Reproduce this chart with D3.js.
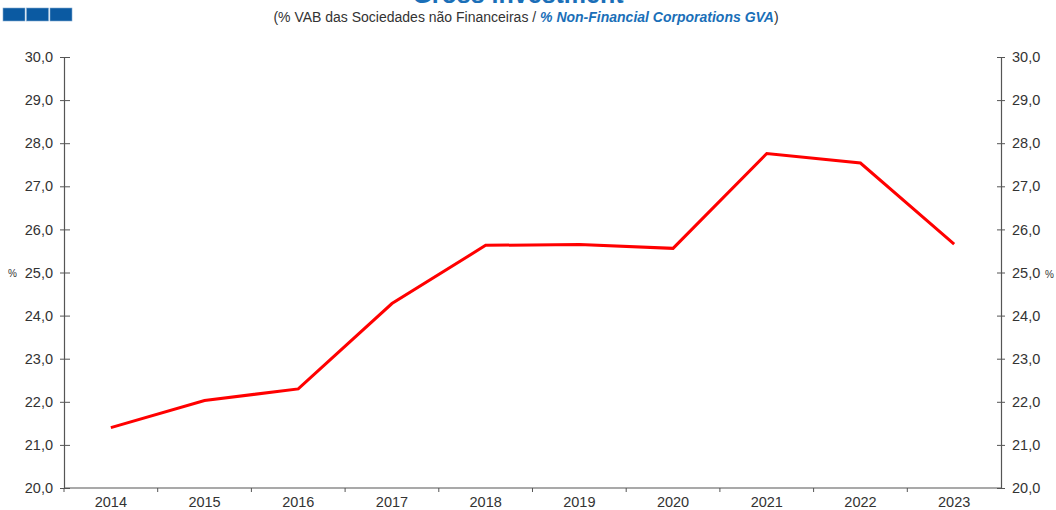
<!DOCTYPE html>
<html>
<head>
<meta charset="utf-8">
<script src="https://cdn.jsdelivr.net/npm/d3@7"></script>
<style>
  body { margin: 0; background: #fff; }
  svg { display: block; font-family: "Liberation Sans", Arial, sans-serif; }
</style>
</head>
<body>
<div class="container"></div>
<script>
const years = ['2014', '2015', '2016', '2017', '2018', '2019', '2020', '2021', '2022', '2023'];
const values = [21.4, 22.03, 22.3, 24.28, 25.63, 25.65, 25.56, 27.76, 27.54, 25.66];
const yTicks = [20, 21, 22, 23, 24, 25, 26, 27, 28, 29, 30];

const width = 1056;
const height = 510;
const plotLeft = 64, plotRight = 1001, plotTop = 57, plotBottom = 488;

const svg = d3.select('.container')
  .append('svg')
  .attr('width', width)
  .attr('height', height);

// blue squares logo
svg.selectAll('rect.logo')
  .data([0, 1, 2])
  .enter().append('rect')
  .attr('x', d => 3 + d * 23.5)
  .attr('y', 8)
  .attr('width', 22)
  .attr('height', 13)
  .attr('fill', '#0b5aa2')
  .attr('stroke', '#7fa8d0')
  .attr('stroke-width', 0.6);

// title, cut off at the top like the reference
svg.append('text')
  .attr('x', 518)
  .attr('y', 3)
  .attr('text-anchor', 'middle')
  .attr('font-size', 25)
  .attr('font-weight', 'bold')
  .attr('fill', '#1a6fb8')
  .text('Gross investment');

const sub = svg.append('text')
  .attr('x', 526)
  .attr('y', 22)
  .attr('text-anchor', 'middle')
  .attr('font-size', 14)
  .attr('fill', '#333');
sub.append('tspan').text('(% VAB das Sociedades não Financeiras / ');
sub.append('tspan')
  .attr('fill', '#1a6fb8')
  .attr('font-style', 'italic')
  .attr('font-weight', 'bold')
  .text('% Non-Financial Corporations GVA');
sub.append('tspan').text(')');

const x = d3.scaleBand().domain(years).range([plotLeft, plotRight]);
const y = d3.scaleLinear().domain([20, 30]).range([plotBottom, plotTop]);
const fmt = d => d3.format('.1f')(d).replace('.', ',');

// left axis
const yl = svg.append('g')
  .attr('transform', `translate(${plotLeft},0)`)
  .call(d3.axisLeft(y).tickValues(yTicks).tickFormat(fmt).tickSize(4).tickPadding(7));
yl.selectAll('.tick line').attr('x2', 6).attr('x1', -4);

// right axis
const yr = svg.append('g')
  .attr('transform', `translate(${plotRight},0)`)
  .call(d3.axisRight(y).tickValues(yTicks).tickFormat(fmt).tickSize(4).tickPadding(7));
yr.selectAll('.tick line').attr('x2', 4).attr('x1', -4);

// x axis with ticks at band boundaries
const xa = svg.append('g')
  .attr('transform', `translate(0,${plotBottom})`)
  .call(d3.axisBottom(x).tickSize(0).tickPadding(9));
xa.selectAll('.tick')
  .append('line')
  .attr('x1', -x.bandwidth() / 2)
  .attr('x2', -x.bandwidth() / 2)
  .attr('y1', 0)
  .attr('y2', 4)
  .attr('stroke', '#555');

[yl, yr, xa].forEach(g => {
  g.select('.domain').attr('stroke', '#555').attr('stroke-width', 1.2);
  g.selectAll('.tick line').attr('stroke', '#555');
  g.selectAll('.tick text').attr('font-size', 14.5).attr('fill', '#333')
    .attr('font-family', '"Liberation Sans", Arial, sans-serif');
});
xa.select('.domain').attr('d', `M${plotLeft},0H${plotRight}`);

// % labels
svg.append('text')
  .attr('x', 8).attr('y', y(25) + 4)
  .attr('font-size', 10).attr('fill', '#333').text('%');
svg.append('text')
  .attr('x', 1045).attr('y', y(25) + 5)
  .attr('font-size', 10).attr('fill', '#333').text('%');

// red line
const line = d3.line()
  .x((d, i) => x(years[i]) + x.bandwidth() / 2)
  .y(d => y(d));

svg.append('path')
  .datum(values)
  .attr('d', line)
  .attr('fill', 'none')
  .attr('stroke', '#ff0000')
  .attr('stroke-width', 3);
</script>
</body>
</html>
